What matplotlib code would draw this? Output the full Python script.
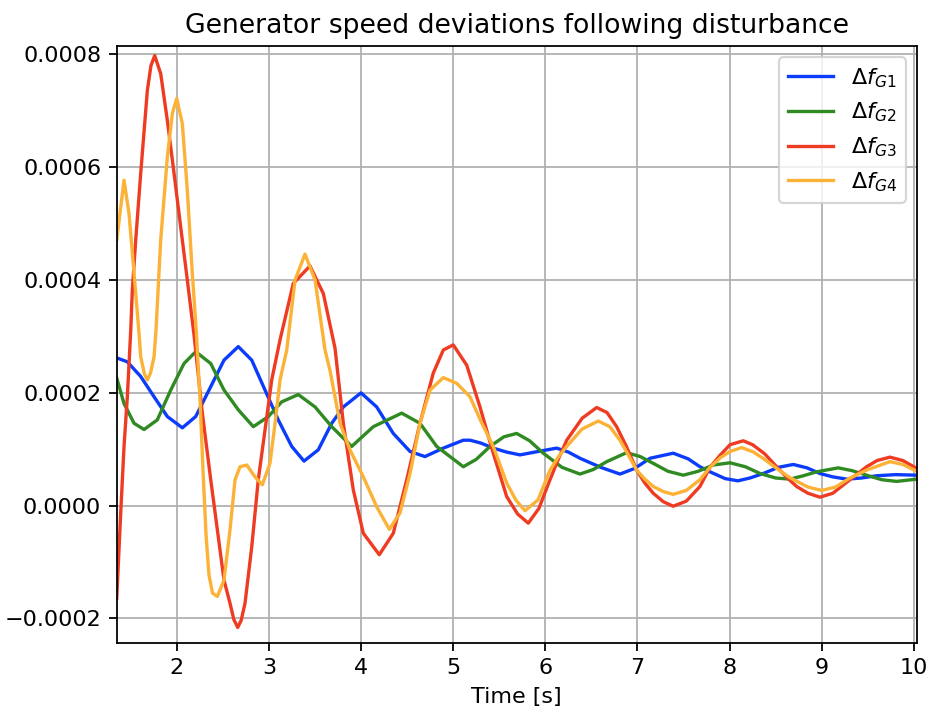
import numpy as np
import matplotlib
matplotlib.use("Agg")
import matplotlib.pyplot as plt

# valores, en unidades de 1e-4
t_g1 = [1.349, 1.464, 1.609, 1.754, 1.898, 2.061, 2.206, 2.369, 2.513, 2.668,
        2.814, 2.958, 3.102, 3.248, 3.381, 3.536, 3.682, 3.808, 4.000, 4.170,
        4.350, 4.532, 4.694, 4.893, 5.110, 5.183, 5.300, 5.435, 5.580, 5.725,
        5.920, 6.123, 6.250, 6.376, 6.600, 6.810, 6.970, 7.136, 7.388, 7.550,
        7.678, 7.787, 7.950, 8.090, 8.220, 8.365, 8.530, 8.691, 8.840, 8.980,
        9.120, 9.270, 9.430, 9.596, 9.800, 10.03]
f_g1 = [2.62, 2.55, 2.29, 1.93, 1.58, 1.38, 1.58, 2.11, 2.58, 2.82,
        2.58, 2.05, 1.52, 1.05, 0.79, 0.99, 1.46, 1.75, 2.00, 1.75,
        1.28, 0.96, 0.87, 1.02, 1.16, 1.16, 1.11, 1.02, 0.95, 0.90,
        0.96, 1.02, 0.95, 0.84, 0.68, 0.56, 0.66, 0.84, 0.93, 0.83,
        0.69, 0.60, 0.48, 0.44, 0.49, 0.57, 0.68, 0.73, 0.67, 0.57,
        0.51, 0.47, 0.49, 0.53, 0.55, 0.54]

t_g2 = [1.349, 1.428, 1.537, 1.645, 1.789, 1.935, 2.079, 2.206, 2.369, 2.513,
        2.668, 2.831, 2.994, 3.139, 3.319, 3.501, 3.682, 3.899, 4.133, 4.441,
        4.640, 4.821, 5.110, 5.250, 5.400, 5.550, 5.689, 5.830, 5.978, 6.180,
        6.376, 6.520, 6.666, 6.883, 7.030, 7.171, 7.330, 7.497, 7.660, 7.822,
        8.004, 8.170, 8.330, 8.500, 8.655, 8.800, 8.944, 9.179, 9.330, 9.487,
        9.650, 9.813, 10.03]
f_g2 = [2.26, 1.81, 1.46, 1.35, 1.52, 2.05, 2.52, 2.73, 2.52, 2.05,
        1.70, 1.40, 1.58, 1.84, 1.97, 1.75, 1.40, 1.05, 1.40, 1.64,
        1.46, 1.05, 0.69, 0.82, 1.05, 1.22, 1.28, 1.15, 0.93, 0.68,
        0.56, 0.64, 0.78, 0.94, 0.87, 0.75, 0.61, 0.54, 0.61, 0.72,
        0.76, 0.69, 0.57, 0.49, 0.47, 0.53, 0.60, 0.67, 0.62, 0.54,
        0.46, 0.43, 0.47]

t_g3 = [1.349, 1.392, 1.428, 1.464, 1.501, 1.518, 1.555, 1.609, 1.681, 1.720,
        1.761, 1.826, 1.898, 1.971, 2.043, 2.115, 2.188, 2.278, 2.369, 2.441,
        2.513, 2.578, 2.620, 2.662, 2.700, 2.741, 2.814, 2.885, 2.958, 3.031,
        3.121, 3.265, 3.446, 3.591, 3.718, 3.808, 3.916, 4.025, 4.198, 4.350,
        4.496, 4.640, 4.784, 4.893, 5.001, 5.147, 5.291, 5.435, 5.581, 5.700,
        5.815, 5.930, 6.051, 6.140, 6.232, 6.400, 6.557, 6.670, 6.774, 6.880,
        6.991, 7.080, 7.171, 7.280, 7.388, 7.530, 7.678, 7.787, 7.900, 8.004,
        8.148, 8.250, 8.380, 8.510, 8.620, 8.727, 8.850, 8.980, 9.120, 9.306,
        9.400, 9.487, 9.600, 9.740, 9.880, 10.03]
f_g3 = [-1.64, -0.13, 1.05, 1.93, 3.11, 3.82, 4.71, 5.89, 7.36, 7.80,
        7.98, 7.66, 6.83, 5.89, 4.94, 4.00, 3.02, 1.64, 0.46, -0.43,
        -1.32, -1.73, -2.02, -2.16, -2.03, -1.73, -0.73, 0.46, 1.34, 2.23,
        2.94, 3.94, 4.25, 3.76, 2.79, 1.46, 0.28, -0.49, -0.87, -0.49,
        0.46, 1.46, 2.35, 2.76, 2.85, 2.49, 1.75, 0.93, 0.16, -0.15,
        -0.31, -0.05, 0.46, 0.82, 1.16, 1.55, 1.74, 1.65, 1.40, 1.05,
        0.63, 0.40, 0.22, 0.07, -0.01, 0.08, 0.34, 0.68, 0.90, 1.08,
        1.15, 1.08, 0.92, 0.69, 0.50, 0.34, 0.22, 0.15, 0.22, 0.46,
        0.58, 0.69, 0.80, 0.86, 0.80, 0.66]

t_g4 = [1.349, 1.428, 1.482, 1.537, 1.591, 1.609, 1.650, 1.681, 1.715, 1.754,
        1.775, 1.826, 1.898, 1.952, 2.000, 2.061, 2.115, 2.169, 2.212, 2.253,
        2.285, 2.318, 2.350, 2.388, 2.441, 2.513, 2.578, 2.633, 2.687, 2.760,
        2.850, 2.929, 3.012, 3.067, 3.121, 3.194, 3.284, 3.392, 3.501, 3.609,
        3.663, 3.772, 3.880, 4.025, 4.170, 4.307, 4.423, 4.532, 4.640, 4.749,
        4.893, 5.038, 5.183, 5.300, 5.435, 5.581, 5.680, 5.779, 5.920, 6.051,
        6.140, 6.232, 6.400, 6.575, 6.700, 6.810, 6.900, 6.991, 7.080, 7.171,
        7.280, 7.388, 7.530, 7.678, 7.787, 7.900, 8.004, 8.131, 8.260, 8.380,
        8.510, 8.650, 8.850, 8.999, 9.150, 9.306, 9.500, 9.740, 9.880, 10.03]
f_g4 = [4.71, 5.77, 5.18, 4.12, 3.05, 2.64, 2.33, 2.23, 2.35, 2.64,
        3.11, 4.71, 6.18, 6.95, 7.22, 6.77, 5.59, 4.12, 3.10, 1.87,
        0.63, -0.52, -1.23, -1.55, -1.61, -1.32, -0.43, 0.46, 0.69, 0.72,
        0.51, 0.37, 0.75, 1.46, 2.23, 2.76, 4.00, 4.46, 4.00, 2.76,
        2.40, 1.46, 0.99, 0.51, -0.02, -0.42, -0.13, 0.57, 1.46, 2.05,
        2.27, 2.17, 1.93, 1.50, 1.05, 0.40, 0.10, -0.09, 0.10, 0.63,
        0.86, 1.05, 1.36, 1.50, 1.40, 1.16, 0.90, 0.63, 0.47, 0.34,
        0.25, 0.20, 0.27, 0.46, 0.68, 0.85, 0.96, 1.03, 0.95, 0.82,
        0.66, 0.50, 0.33, 0.27, 0.33, 0.49, 0.64, 0.78, 0.73, 0.61]

series = [
    (t_g1, f_g1, r"$\Delta f_{G1}$", "#0c3cfb"),
    (t_g2, f_g2, r"$\Delta f_{G2}$", "#2f8a22"),
    (t_g3, f_g3, r"$\Delta f_{G3}$", "#ee3b22"),
    (t_g4, f_g4, r"$\Delta f_{G4}$", "#fbb236"),
]

fig = plt.figure(figsize=(928 / 160, 713 / 160), dpi=160)
ax = fig.add_axes([0.1258, 0.0986, 0.862, 0.8369])

for t, f, nombre, color in series:
    ax.plot(t, np.array(f) * 1e-4, color=color, lw=1.5, label=nombre)

ax.set_xlim(1.349, 10.03)
ax.set_ylim(-0.000243, 0.000815)
ax.set_xticks(range(2, 11))
ax.grid(True)
ax.set_xlabel("Time [s]")
ax.set_title("Generator speed deviations following disturbance")
ax.legend(loc="upper right")

fig.savefig("out.png", dpi=160)
